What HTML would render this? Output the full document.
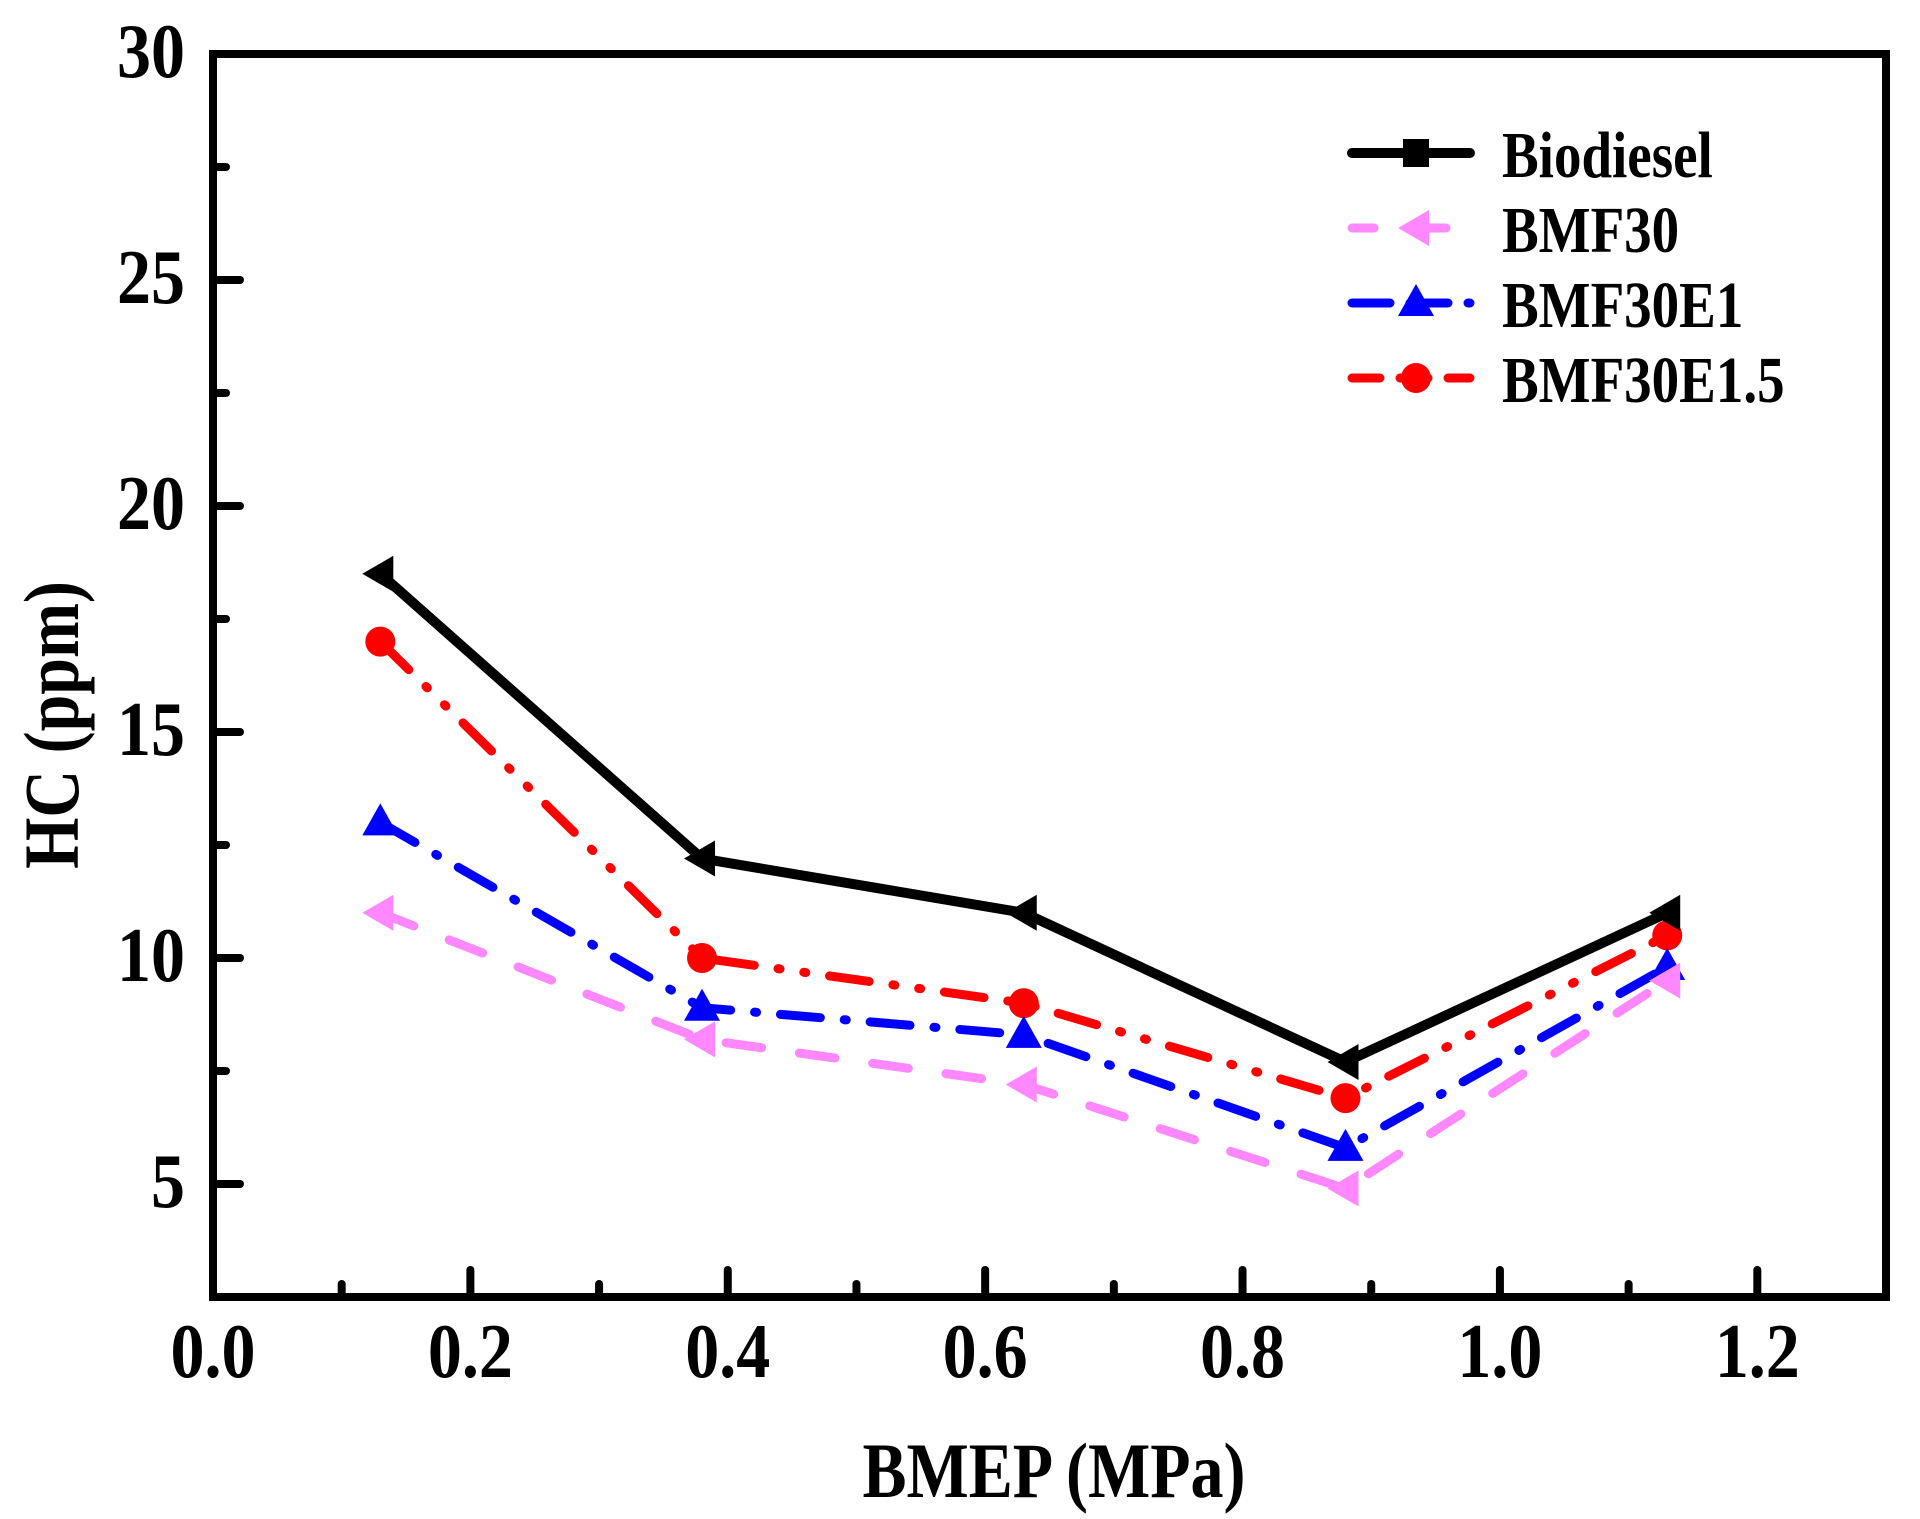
<!DOCTYPE html>
<html><head><meta charset="utf-8"><style>
html,body{margin:0;padding:0;background:#fff;}
svg{display:block;}
text{font-family:"Liberation Serif",serif;font-weight:bold;fill:#000;}
</style></head><body>
<svg id="chart" width="1920" height="1519" viewBox="0 0 1920 1519">
<g id="grid"></g>
<g id="series"></g>
<rect x="213" y="54" width="1673" height="1243" fill="none" stroke="#000" stroke-width="8"/>
<g id="axes"></g>
<text transform="translate(1054,1497) scale(1,1.18)" font-size="66" text-anchor="middle">BMEP (MPa)</text>
<text transform="translate(78,725) rotate(-90) scale(1,1.18)" font-size="66" text-anchor="middle">HC (ppm)</text>
<g id="legend"></g>
</svg>
<script>
const categories = [0.13, 0.38, 0.63, 0.88, 1.13];
const biodiesel = [18.5, 12.2, 11.0, 7.7, 11.0];
const bmf30 = [11.0, 8.2, 7.2, 4.9, 9.5];
const bmf30e1 = [13.0, 8.9, 8.3, 5.8, 9.8];
const bmf30e15 = [17.0, 10.0, 9.0, 6.9, 10.5];
const xTicks = ["0.0","0.2","0.4","0.6","0.8","1.0","1.2"];
const yTicks = ["5","10","15","20","25","30"];
const seriesNames = ["Biodiesel","BMF30","BMF30E1","BMF30E1.5"];

const NS="http://www.w3.org/2000/svg";
const X0=213,X1=1886,Y0=1297,Y1=54,XMIN=0,XMAX=1.3,YMIN=2.5,YMAX=30;
function sx(v){return X0+(v-XMIN)/(XMAX-XMIN)*(X1-X0);}
function sy(v){return Y0-(v-YMIN)/(YMAX-YMIN)*(Y0-Y1);}
function mk(tag,attrs,parent){const e=document.createElementNS(NS,tag);for(const k in attrs)e.setAttribute(k,attrs[k]);parent.appendChild(e);return e;}
const axes=document.getElementById('axes');
for(let i=0;i<=12;i++){const v=i*0.1;const x=sx(v);const major=i%2===0;
 const t=mk('line',{x1:x,x2:x,y1:Y0,y2:Y0-(major?27:13),stroke:'#000','stroke-width':8,'stroke-linecap':'round'},axes);
 
 }
xTicks.forEach(s=>{const tx=mk('text',{transform:`translate(${sx(parseFloat(s))},1377) scale(1,1.14)`,'font-size':68,'text-anchor':'middle'},axes);tx.textContent=s;
 
 });
for(let v=5;v<=27.5;v+=2.5){const y=sy(v);const major=(v%5===0);
 const t=mk('line',{x1:X0,x2:X0+(major?27:13),y1:y,y2:y,stroke:'#000','stroke-width':8,'stroke-linecap':'round'},axes);
 
 }
yTicks.forEach(s=>{const tx=mk('text',{transform:`translate(185,${sy(parseFloat(s))+23}) scale(1,1.14)`,'font-size':68,'text-anchor':'end'},axes);tx.textContent=s;
 
 });

const styles=[
 {name:seriesNames[0],data:biodiesel,color:'#000',dash:'',w:10,marker:'left',legendMarker:'square'},
 {name:seriesNames[1],data:bmf30,color:'#ff88ff',dash:'36 38',w:9,marker:'left',legendMarker:'left'},
 {name:seriesNames[2],data:bmf30e1,color:'#0000ff',dash:'40 24 2 24',w:9,marker:'up',legendMarker:'up'},
 {name:seriesNames[3],data:bmf30e15,color:'#ff0000',dash:'40 24 2 24 2 24',w:9,marker:'circle',legendMarker:'circle'}
];
function marker(type,x,y,color,parent){
 let e;
 if(type==='left') e=mk('polygon',{points:`${x-18},${y} ${x+13},${y-18} ${x+13},${y+18}`,fill:color},parent);
 else if(type==='up') e=mk('polygon',{points:`${x},${y-19} ${x-18},${y+13} ${x+18},${y+13}`,fill:color},parent);
 else if(type==='circle') e=mk('circle',{cx:x,cy:y,r:15,fill:color},parent);
 else e=mk('rect',{x:x-13,y:y-14,width:26,height:28,fill:color},parent);
 return e;
}
const sg=document.getElementById('series');
styles.slice().reverse().forEach(s=>{
 const g=mk('g',{},sg);
 
 
 const pts=categories.map((c,i)=>sx(c)+','+sy(s.data[i])).join(' ');
 const pl=mk('polyline',{points:pts,fill:'none',stroke:s.color,'stroke-width':s.w,'stroke-dasharray':s.dash,'stroke-linecap':'round','stroke-linejoin':'round'},g);
 
 
 categories.forEach((c,i)=>{const m=marker(s.marker,sx(c),sy(s.data[i]),s.color,g);
  
  });
});
const lg=document.getElementById('legend');


const legendDash=['','22 50','38 20','28 20'];
styles.forEach((s,i)=>{
 const y=153+i*75;
 const g=mk('g',{},lg);
 
 
 mk('line',{x1:1352,x2:1470,y1:y,y2:y,stroke:s.color,'stroke-width':s.w,'stroke-dasharray':legendDash[i],'stroke-linecap':'round'},g);
 marker(s.legendMarker,1416,y,s.color,g);
 const t=mk('text',{transform:`translate(1502,${y+24}) scale(1,1.2)`,'font-size':55},g);t.textContent=s.name;
});
</script>
</body></html>
